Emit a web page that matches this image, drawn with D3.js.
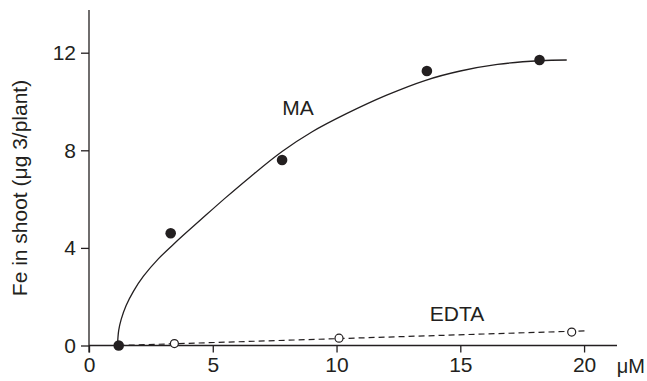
<!DOCTYPE html>
<html>
<head>
<meta charset="utf-8">
<script src="https://cdn.jsdelivr.net/npm/d3@7"></script>
<style>
  body { margin: 0; background: #fff; }
  svg text { font-family: Arial, "Liberation Sans", sans-serif; fill: #231f20; }
</style>
</head>
<body>
<div id="chart"></div>
<script>
// x in µM, y in µg/plant
var maPts = [[1.2, 0], [3.3, 4.6], [7.8, 7.6], [13.65, 11.25], [18.2, 11.7]];
var maFit = [[1.15, 0], [1.2, 0.62], [1.3, 1.07], [1.5, 1.64], [1.8, 2.23], [2.2, 2.84], [2.8, 3.55],
             [3.5, 4.23], [4.5, 5.14], [5.5, 6.04], [6.5, 6.9], [7.8, 7.95], [9.0, 8.75], [10.4, 9.5],
             [12.0, 10.25], [13.6, 10.87], [15.0, 11.25], [16.5, 11.52], [18.2, 11.67], [19.3, 11.7]];
var edtaPts = [[3.45, 0.08], [10.1, 0.3], [19.5, 0.55]];
var edtaFit = [[1.2, 0], [20.05, 0.6]];
var xTicks = [0, 5, 10, 15, 20];
var yTicks = [0, 4, 8, 12];

var W = 647, H = 381;
var ink = '#231f20';
var fs = 21;

var svg = d3.select('#chart').append('svg')
	.attr('width', W)
	.attr('height', H);

var x = d3.scaleLinear().domain([0, 21.33]).range([89, 617]);
var y = d3.scaleLinear().domain([0, 13.75]).range([345.5, 10]);

// axes
var xAxis = svg.append('g')
	.attr('transform', 'translate(0,' + y(0) + ')')
	.call(d3.axisBottom(x).tickValues(xTicks).tickSize(7).tickPadding(5).tickSizeOuter(0));
xAxis.select('.domain').remove();
xAxis.selectAll('line').attr('stroke', ink).attr('stroke-width', 1.3);
xAxis.selectAll('text').attr('font-size', fs).attr('fill', ink);

var yAxis = svg.append('g')
	.attr('transform', 'translate(' + x(0) + ',0)')
	.call(d3.axisLeft(y).tickValues(yTicks).tickSize(8).tickPadding(5).tickSizeOuter(0));
yAxis.select('.domain').remove();
yAxis.selectAll('line').attr('stroke', ink).attr('stroke-width', 1.3);
yAxis.selectAll('text').attr('font-size', fs).attr('fill', ink);

svg.append('line')
	.attr('x1', x(0)).attr('x2', x(0))
	.attr('y1', y(13.75)).attr('y2', y(0) + 7)
	.attr('stroke', ink).attr('stroke-width', 1.3);

svg.append('line')
	.attr('x1', x(0)).attr('x2', x(21.33))
	.attr('y1', y(0)).attr('y2', y(0))
	.attr('stroke', ink).attr('stroke-width', 1.3);

svg.append('text')
	.attr('x', 645).attr('y', y(0) + 27)
	.attr('text-anchor', 'end')
	.attr('font-size', 20)
	.text('μM');

svg.append('text')
	.attr('transform', 'translate(27,188) rotate(-90)')
	.attr('text-anchor', 'middle')
	.attr('font-size', fs)
	.text('Fe in shoot (μg 3/plant)');

// fitted lines
var line = d3.line()
	.x(d => x(d[0]))
	.y(d => y(d[1]))
	.curve(d3.curveCatmullRom.alpha(0.5));

svg.append('path')
	.attr('d', line(maFit))
	.attr('fill', 'none')
	.attr('stroke', ink)
	.attr('stroke-width', 1.3);

svg.append('path')
	.attr('d', d3.line().x(d => x(d[0])).y(d => y(d[1]))(edtaFit))
	.attr('fill', 'none')
	.attr('stroke', ink)
	.attr('stroke-width', 1.2)
	.attr('stroke-dasharray', '6,4');

// points
svg.selectAll('.ma').data(maPts).enter().append('circle')
	.attr('class', 'ma')
	.attr('cx', d => x(d[0]))
	.attr('cy', d => y(d[1]))
	.attr('r', 5.3)
	.attr('fill', ink);

svg.selectAll('.edta').data(edtaPts).enter().append('circle')
	.attr('class', 'edta')
	.attr('cx', d => x(d[0]))
	.attr('cy', d => y(d[1]))
	.attr('r', 4)
	.attr('fill', '#fff')
	.attr('stroke', ink)
	.attr('stroke-width', 1.2);

// series labels
svg.append('text')
	.attr('x', 298).attr('y', 115)
	.attr('text-anchor', 'middle')
	.attr('font-size', fs)
	.text('MA');

svg.append('text')
	.attr('x', 457).attr('y', 321)
	.attr('text-anchor', 'middle')
	.attr('font-size', fs)
	.text('EDTA');
</script>
</body>
</html>
